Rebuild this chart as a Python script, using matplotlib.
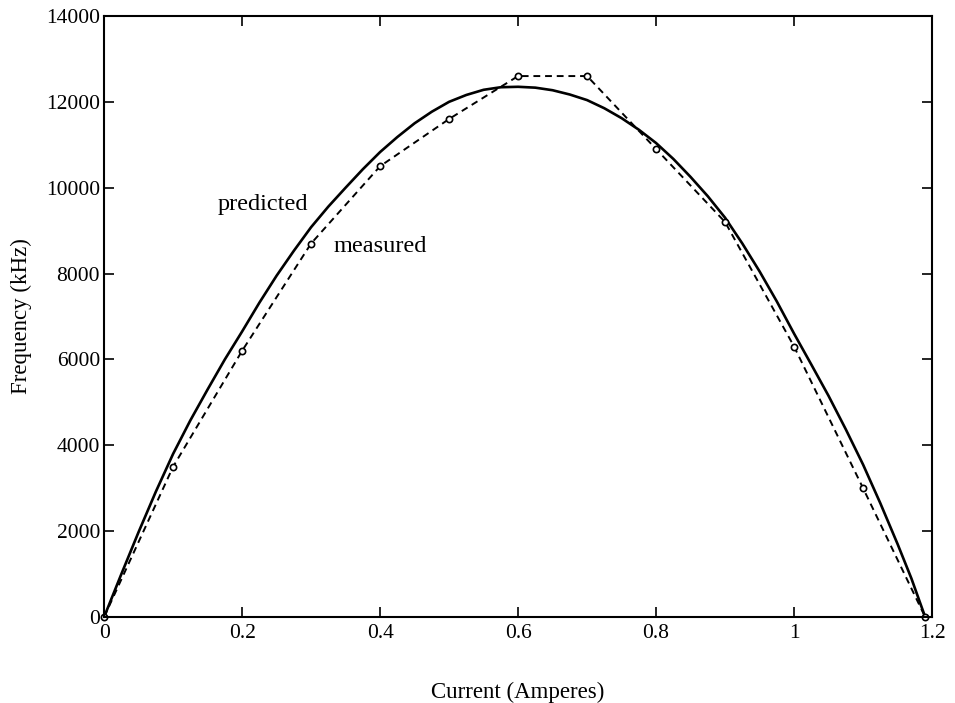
import matplotlib.pyplot as plt

plt.rcParams['font.family'] = ['Liberation Serif', 'DejaVu Serif']

## measured points
meas_current = [0, 0.1, 0.2, 0.3, 0.4, 0.5, 0.6, 0.7, 0.8, 0.9, 1.0, 1.1, 1.19]
meas_freq = [0, 3500, 6200, 8700, 10500, 11600, 12600, 12600, 10900, 9200, 6300, 3000, 0]

## predicted curve, sampled from the figure
pred_current = [0, 0.025, 0.05, 0.075, 0.1, 0.125, 0.15, 0.175, 0.2, 0.225, 0.25, 0.275,
                0.3, 0.325, 0.35, 0.375, 0.4, 0.425, 0.45, 0.475, 0.5, 0.525, 0.55, 0.575,
                0.6, 0.625, 0.65, 0.675, 0.7, 0.725, 0.75, 0.775, 0.8, 0.825, 0.85, 0.875,
                0.9, 0.925, 0.95, 0.975, 1.0, 1.025, 1.05, 1.075, 1.1, 1.125, 1.15, 1.17, 1.19]
pred_freq = [0, 1000, 1980, 2920, 3800, 4580, 5300, 6000, 6650, 7320, 7950, 8530,
             9080, 9560, 10000, 10430, 10830, 11180, 11500, 11770, 12000, 12160, 12280, 12340,
             12350, 12330, 12270, 12170, 12040, 11850, 11620, 11350, 11040, 10670, 10250, 9800,
             9300, 8700, 8050, 7350, 6600, 5880, 5150, 4370, 3550, 2650, 1700, 900, 0]

xticks = [0, 0.2, 0.4, 0.6, 0.8, 1, 1.2]
xtick_labels = ['0', '0.2', '0.4', '0.6', '0.8', '1', '1.2']
yticks = [0, 2000, 4000, 6000, 8000, 10000, 12000, 14000]

fig = plt.figure(figsize=(9.55, 7.03), dpi=100)
ax = fig.add_axes([0.109, 0.1223, 0.867, 0.855])

ax.plot(pred_current, pred_freq, color='black', linewidth=1.9, clip_on=False,
        solid_joinstyle='round')
ax.plot(meas_current, meas_freq, color='black', linestyle='--', linewidth=1.4,
        dashes=(3.5, 2.5), marker='o', markersize=4.5, markerfacecolor='white',
        markeredgecolor='black', markeredgewidth=1.2, clip_on=False)

ax.text(0.165, 9600, 'predicted', fontsize=17.5, va='center', ha='left')
ax.text(0.333, 8640, 'measured', fontsize=17.5, va='center', ha='left')

ax.set_xlim(0, 1.2)
ax.set_ylim(0, 14000)
ax.set_xticks(xticks)
ax.set_xticklabels(xtick_labels)
ax.set_yticks(yticks)
ax.tick_params(direction='in', length=7, width=1.2, top=True, right=True,
               labelsize=15.5)
ax.tick_params(axis='y', pad=3)
ax.tick_params(axis='x', pad=5)
for s in ax.spines.values():
    s.set_linewidth(1.5)

ax.set_xlabel('Current (Amperes)', fontsize=16.5, labelpad=28)
ax.set_ylabel('Frequency (kHz)', fontsize=16.5, labelpad=10)

plt.savefig('out.png', dpi=100)
